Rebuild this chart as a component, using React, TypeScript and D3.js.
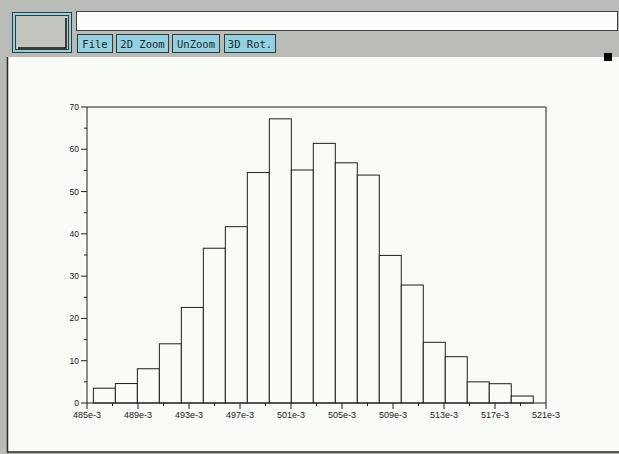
import React from "react";
import * as d3 from "d3";

const counts = [3.5, 4.6, 8.1, 14, 22.6, 36.6, 41.7, 54.5, 67.2, 55.1, 61.4, 56.8, 53.9, 34.9, 27.9, 14.35, 10.95, 5.0, 4.56, 1.65];
const histMin = 0.4855;
const histMax = 0.52;
const xTickValues = [0.485, 0.489, 0.493, 0.497, 0.501, 0.505, 0.509, 0.513, 0.517, 0.521];
const xTickLabels = ["485e-3", "489e-3", "493e-3", "497e-3", "501e-3", "505e-3", "509e-3", "513e-3", "517e-3", "521e-3"];
const xMinorTicks = [0.487, 0.491, 0.495, 0.499, 0.503, 0.507, 0.511, 0.515, 0.519];
const yTickValues = [0, 10, 20, 30, 40, 50, 60, 70];
const yMinorTicks = [5, 15, 25, 35, 45, 55, 65];
const buttons = ["File", "2D Zoom", "UnZoom", "3D Rot."];
const buttonX = [[77, 112], [116, 168], [172, 219], [224, 275]];

export default function App() {
  const W = 619, H = 454;
  const x = d3.scaleLinear().domain([0.485, 0.521]).range([87, 546]);
  const y = d3.scaleLinear().domain([0, 70]).range([403, 107]);
  const binW = (histMax - histMin) / counts.length;
  const ink = "#1e201e";
  const panelBg = "#f9fbf7";
  const gray = "#b9bbb6";
  const blue = "#93d1e0";
  const dark = "#2c3c3c";

  return (
    <svg width={W} height={H} style={{ position: "absolute", left: 0, top: 0 }}>
      <rect x={0} y={0} width={W} height={H} fill={gray} />
      {/* white panel */}
      <rect x={8} y={57} width={W - 8} height={395} fill={panelBg} />
      <line x1={7.5} y1={57} x2={7.5} y2={452.5} stroke="#2a2a2a" strokeWidth={1.5} />
      <line x1={7} y1={452} x2={W} y2={452} stroke="#2a2a2a" strokeWidth={1.5} />

      {/* big button */}
      <rect x={12.5} y={12.5} width={59} height={40} fill={blue} stroke={dark} />
      <rect x={15.5} y={15.5} width={53} height={34} fill="#c2c4be" stroke={dark} />
      <polyline points="18,48 66,48 66,18" fill="none" stroke="#111" strokeWidth={1.5} />

      {/* text field */}
      <rect x={76.5} y={11.5} width={541} height={19} fill="#fcfdfb" stroke="#3a4444" />

      {/* buttons */}
      {buttons.map((b, i) => (
        <g key={b}>
          <rect x={buttonX[i][0] + 0.5} y={34.5} width={buttonX[i][1] - buttonX[i][0]} height={18} fill={blue} stroke={dark} />
          <text
            x={(buttonX[i][0] + buttonX[i][1]) / 2 + 0.5}
            y={47.5}
            textAnchor="middle"
            fontFamily="DejaVu Sans Mono"
            fontSize={10.5}
            fill="#1a2626"
          >
            {b}
          </text>
        </g>
      ))}

      {/* small square */}
      <rect x={604} y={53} width={8} height={8} fill="#000" />

      {/* bars */}
      {counts.map((c, i) => {
        const x0 = x(histMin + i * binW);
        const x1 = x(histMin + (i + 1) * binW);
        return (
          <rect
            key={i}
            x={x0}
            y={y(c)}
            width={x1 - x0}
            height={y(0) - y(c)}
            fill={panelBg}
            stroke={ink}
            strokeWidth={1}
          />
        );
      })}

      {/* frame */}
      <line x1={x(0.485)} y1={y(70)} x2={x(0.521)} y2={y(70)} stroke={ink} />
      <line x1={x(0.521)} y1={y(70)} x2={x(0.521)} y2={y(0)} stroke={ink} />
      <line x1={x(0.485)} y1={y(70)} x2={x(0.485)} y2={y(0)} stroke={ink} />
      <line x1={x(0.485)} y1={y(0)} x2={x(0.521)} y2={y(0)} stroke={ink} />

      {/* y ticks */}
      {yTickValues.map((v) => (
        <g key={"y" + v}>
          <line x1={x(0.485) - 6} x2={x(0.485)} y1={y(v)} y2={y(v)} stroke={ink} />
          <text x={x(0.485) - 8} y={y(v) + 3} textAnchor="end" fontFamily="Liberation Sans" fontSize={8.5} fill="#222">
            {v}
          </text>
        </g>
      ))}
      {yMinorTicks.map((v) => (
        <line key={"ym" + v} x1={x(0.485) - 3} x2={x(0.485)} y1={y(v)} y2={y(v)} stroke={ink} />
      ))}

      {/* x ticks */}
      {xTickValues.map((v, i) => (
        <g key={"x" + v}>
          <line x1={x(v)} x2={x(v)} y1={y(0)} y2={y(0) + 6} stroke={ink} />
          <text x={x(v)} y={418} textAnchor="middle" fontFamily="Liberation Sans" fontSize={9} fill="#222">
            {xTickLabels[i]}
          </text>
        </g>
      ))}
      {xMinorTicks.map((v) => (
        <line key={"xm" + v} x1={x(v)} x2={x(v)} y1={y(0)} y2={y(0) + 3} stroke={ink} />
      ))}
    </svg>
  );
}
